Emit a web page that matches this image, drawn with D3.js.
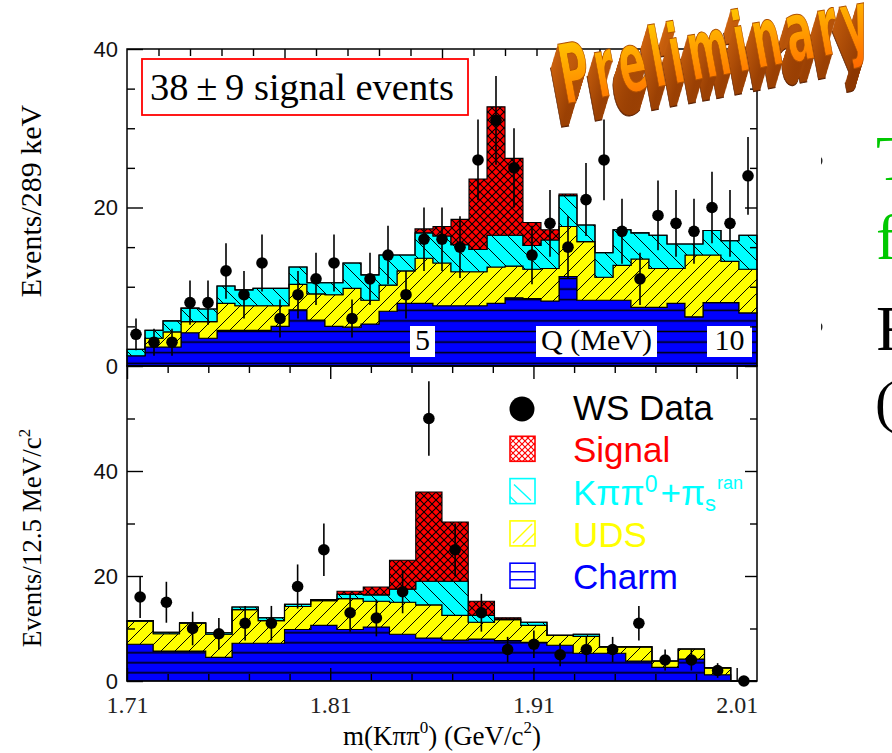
<!DOCTYPE html>
<html>
<head>
<meta charset="utf-8">
<script src="https://cdn.jsdelivr.net/npm/d3@7"></script>
<style>
  html, body { margin: 0; padding: 0; background: #fff; }
  svg { display: block; }
</style>
</head>
<body>
<svg id="chart" width="892" height="753"></svg>
<script>
// ---------- Upper panel: Q distribution, 35 bins of 289 keV ----------
const topCharm  = [1.3,2.4,2.4,4.2,3.5,4.5,4.5,4.5,5.0,7.1,5.8,5.0,4.9,5.3,6.9,7.9,7.9,7.6,7.6,7.6,7.9,8.6,8.5,8.2,11.3,8.3,8.3,8.3,7.4,7.4,7.9,6.2,8.0,8.0,6.7];
const topUDS    = [0,1.1,1.9,1.4,2.1,3.4,3.1,3.1,2.6,3.2,3.3,4.0,4.9,3.0,3.3,4.1,5.7,5.4,4.3,4.3,4.6,4.0,3.7,4.1,6.3,7.4,2.9,4.4,6.1,4.9,4.4,7.8,6.0,5.2,5.5];
const topKpp    = [0.8,1.0,1.4,1.7,1.6,2.2,2.0,2.2,2.2,2.2,1.4,1.5,3.2,3.2,3.8,2.0,3.2,3.4,3.4,2.8,4.0,3.9,3.0,3.6,3.9,2.1,3.1,4.5,3.3,4.2,3.1,1.4,3.1,2.6,4.3];
const topSignal = [0,0,0,0,0,0,0,0,0,0,0,0,0,0,0,0,0.5,1.2,3.2,8.9,16.2,9.7,2.9,1.3,0.2,0,0,0,0,0,0,0,0,0,0];
const topData   = [4,3,3,8,8,12,9,13,6,9,11,13,6,11,14,9,16,16,15,26,31,25,14,18,15,21,26,17,11,19,18,17,20,18,24];
const topErr    = [2.0,1.7,1.7,2.8,2.8,3.5,3.0,3.6,2.4,3.0,3.3,3.6,2.4,3.3,3.7,3.0,4.0,4.0,3.9,5.1,5.6,5.0,3.7,4.2,3.9,4.6,5.1,4.1,3.3,4.4,4.2,4.1,4.5,4.2,4.9];

// ---------- Lower panel: m(K pi pi0), 24 bins of 12.5 MeV ----------
const botCharm  = [7.0,5.7,5.7,4.5,7.2,7.2,9.8,10.6,9.8,10.3,8.9,8.2,7.8,8.0,7.7,7.35,6.8,5.3,5.3,3.8,2.6,4.2,1.2,0];
const botUDS    = [4.4,3.3,5.3,4.4,6.4,4.3,4.4,4.7,5.9,4.9,6.1,6.3,4.7,3.2,4.0,3.25,1.9,3.2,1.2,2.7,1.2,1.9,1.3,0];
const botKpp    = [0.1,0.3,0.1,0.3,0.5,0.55,0.4,0.2,0.8,1.2,2.5,4.5,6.5,1.3,0.1,0.6,0,0.4,0,0,0,0,0,0];
const botSignal = [0,0,0,0,0,0,0,0,0.6,1.5,5.5,17.0,11.3,2.7,0.25,0,0,0,0,0,0,0,0,0];
const botData   = [16,15,10,9,11,11,18,25,13,12,17,50,25,13,6,7,5,6,6,11,4,4,2,0];
const botErr    = [4.0,3.9,3.2,3.0,3.3,3.3,4.2,5.0,3.6,3.5,4.1,7.1,5.0,3.6,2.4,2.6,2.2,2.4,2.4,3.3,2.0,2.0,1.4,0];

// ---------- Axis ticks ----------
const topYMajor  = [0, 20, 40];
const topYMinor  = [5, 10, 15, 25, 30, 35];
const botYMajor  = [0, 20, 40];
const botYMinor  = [10, 30, 50];
const qMajor     = [2.5, 5, 7.5];
const qMinor     = [0.5,1,1.5,2,3,3.5,4,4.5,5.5,6,6.5,7,8,8.5,9,9.5];
const massMajor  = [1.71, 1.81, 1.91, 2.01];
const massMinor  = [1.73,1.75,1.77,1.79,1.83,1.85,1.87,1.89,1.93,1.95,1.97,1.99];

const layerKeys  = ["charm", "uds", "kpp", "signal"];
const legendRows = [
  { key: "data",   label: "WS Data", color: "#000000" },
  { key: "signal", label: "Signal",  color: "#ff0000" },
  { key: "kpp",    label: null,      color: "#00ffff" },
  { key: "uds",    label: "UDS",     color: "#ffff00" },
  { key: "charm",  label: "Charm",   color: "#0000ff" }
];

// ---------- Layout ----------
const plotL = 127, plotR = 757;
const topT = 49, mid = 366, botB = 681;

const svg = d3.select("#chart");
svg.append("rect").attr("width", 892).attr("height", 753).attr("fill", "#fff");

const topY    = d3.scaleLinear().domain([0, 40]).range([mid, topT]);
const botY    = d3.scaleLinear().domain([0, 60]).range([botB, mid]);
const topBin  = d3.scaleLinear().domain([0, topData.length]).range([plotL, plotR]);
const botBin  = d3.scaleLinear().domain([0, botData.length]).range([plotL, plotR]);
const qScale  = d3.scaleLinear().domain([0, 10]).range([plotL, plotR]);
const mScale  = d3.scaleLinear().domain([1.71, 2.02]).range([plotL, plotR]);

const fills = { charm: "#0000ff", uds: "#ffff00", kpp: "#00ffff", signal: "#ff0000" };

// ---------- Fill patterns ----------
const defs = svg.append("defs");
function linePattern(id, w, h, d, sw, y0) {
  const p = defs.append("pattern").attr("id", id)
    .attr("patternUnits", "userSpaceOnUse")
    .attr("width", w).attr("height", h)
    .attr("x", 0).attr("y", y0 || 0);
  p.append("path").attr("d", d).attr("stroke", "#000").attr("stroke-width", sw).attr("fill", "none");
}
linePattern("charmTop", 20, 10.6, "M0,5.3H20", 1.5, mid - 2.7 - 5.3);
linePattern("charmBot", 20, 10, "M0,5H20", 1.5, botB - 8.3 - 5);
linePattern("uds", 14, 14, "M-2,2L2,-2M0,14L14,0M12,16L16,12", 1);
linePattern("kpp", 16, 16, "M-2,14L2,18M0,0L16,16M14,-2L18,2", 1);
linePattern("signal", 8, 8, "M0,0L8,8M0,8L8,0", 1.1);

function colourPattern(id, w, h, d, col) {
  const p = defs.append("pattern").attr("id", id)
    .attr("patternUnits", "userSpaceOnUse").attr("width", w).attr("height", h);
  p.append("path").attr("d", d).attr("stroke", col).attr("stroke-width", 1.2).attr("fill", "none");
}

// ---------- Histogram panels ----------
function drawPanel(series, yScale, xBin, charmPat) {
  const n = series.charm.length;
  const rows = d3.range(n).map(i => ({
    i, charm: series.charm[i], uds: series.uds[i], kpp: series.kpp[i], signal: series.signal[i]
  }));
  const stacked = d3.stack().keys(layerKeys)(rows);
  const g = svg.append("g");
  stacked.forEach(layer => {
    // step shape: the last bin is repeated at the right edge
    const pts = layer.map((s, i) => ({ x: i, y0: s[0], y1: s[1] }));
    pts.push({ x: n, y0: layer[n - 1][0], y1: layer[n - 1][1] });
    const area = d3.area()
      .curve(d3.curveStepAfter)
      .x(d => xBin(d.x))
      .y0(d => yScale(d.y0))
      .y1(d => yScale(d.y1));
    const pat = layer.key === "charm" ? charmPat : layer.key;
    g.append("path").attr("d", area(pts)).attr("fill", fills[layer.key]);
    g.append("path").attr("d", area(pts)).attr("fill", `url(#${pat})`);
    g.append("path").attr("d", area(pts))
      .attr("fill", "none").attr("stroke", "#000").attr("stroke-width", 1.1);
  });
  return g;
}

function drawPoints(data, err, yScale, xBin) {
  const g = svg.append("g");
  data.forEach((v, i) => {
    const cx = xBin(i + 0.5);
    if (err[i] > 0) {
      g.append("line").attr("x1", cx).attr("x2", cx)
        .attr("y1", yScale(v - err[i])).attr("y2", yScale(v + err[i]))
        .attr("stroke", "#000").attr("stroke-width", 1.6);
    }
    g.append("circle").attr("cx", cx).attr("cy", yScale(v)).attr("r", 5.8).attr("fill", "#000");
  });
}

// slide text partly hidden behind the figure
svg.append("circle").attr("cx", 816).attr("cy", 161).attr("r", 6.5).attr("fill", "#222");
svg.append("circle").attr("cx", 816).attr("cy", 327).attr("r", 6.5).attr("fill", "#222");
svg.append("rect").attr("x", 0).attr("y", 0).attr("width", 821).attr("height", 753).attr("fill", "#fff");
const slide = svg.append("g").attr("font-family", "'Liberation Serif', 'Times New Roman', serif").attr("font-size", 64);
slide.append("text").attr("x", 876).attr("y", 180).attr("fill", "#00c800").text("T");
slide.append("text").attr("x", 876).attr("y", 259).attr("fill", "#00c800").text("f");
slide.append("text").attr("x", 876).attr("y", 350).attr("fill", "#000").text("F");
slide.append("text").attr("x", 875).attr("y", 421).attr("fill", "#000").attr("font-size", 58).text("(");

drawPanel({ charm: topCharm, uds: topUDS, kpp: topKpp, signal: topSignal }, topY, topBin, "charmTop");
drawPanel({ charm: botCharm, uds: botUDS, kpp: botKpp, signal: botSignal }, botY, botBin, "charmBot");

// Q scale labels on white patches
const qLab = svg.append("g").attr("font-family", "'Liberation Serif', serif").attr("font-size", 30).attr("text-anchor", "middle");
[[410, 435, "5"], [536, 657, "Q (MeV)"], [707, 752, "10"]].forEach(([a, b, t]) => {
  qLab.append("rect").attr("x", a).attr("y", 326).attr("width", b - a).attr("height", 31).attr("fill", "#fff");
  qLab.append("text").attr("x", (a + b) / 2).attr("y", 350).text(t);
});

drawPoints(topData, topErr, topY, topBin);
drawPoints(botData, botErr, botY, botBin);

// ---------- Frames and axes ----------
const axes = svg.append("g").attr("stroke", "#000");
axes.append("rect").attr("x", plotL).attr("y", topT).attr("width", plotR - plotL).attr("height", mid - topT)
  .attr("fill", "none").attr("stroke-width", 1.5);
axes.append("rect").attr("x", plotL).attr("y", mid).attr("width", plotR - plotL).attr("height", botB - mid)
  .attr("fill", "none").attr("stroke-width", 1.5);

function ticks(axisGen, tr, size, labels, fmt) {
  const a = axisGen.tickSizeInner(-size).tickSizeOuter(0).tickPadding(labels ? 9 : 0);
  if (!labels) a.tickFormat("");
  else if (fmt) a.tickFormat(fmt);
  const g = svg.append("g").attr("transform", tr).call(a);
  g.select(".domain").remove();
  g.selectAll(".tick line").attr("stroke", "#000").attr("stroke-width", 1.4);
  return g;
}
// left axes
const yLabTop = ticks(d3.axisLeft(topY).tickValues(topYMajor), `translate(${plotL},0)`, 16, true);
ticks(d3.axisLeft(topY).tickValues(topYMinor), `translate(${plotL},0)`, 8, false);
const yLabBot = ticks(d3.axisLeft(botY).tickValues(botYMajor), `translate(${plotL},0)`, 16, true);
ticks(d3.axisLeft(botY).tickValues(botYMinor), `translate(${plotL},0)`, 8, false);
[yLabTop, yLabBot].forEach(g => g.selectAll("text")
  .attr("font-family", "'Liberation Sans', Arial, sans-serif").attr("font-size", 22).attr("fill", "#111"));
// right axes
ticks(d3.axisRight(topY).tickValues(topYMajor), `translate(${plotR},0)`, 12, false);
ticks(d3.axisRight(topY).tickValues(topYMinor), `translate(${plotR},0)`, 7, false);
ticks(d3.axisRight(botY).tickValues(botYMajor), `translate(${plotR},0)`, 12, false);
ticks(d3.axisRight(botY).tickValues(botYMinor), `translate(${plotR},0)`, 7, false);
// Q ticks along the top edge
ticks(d3.axisTop(qScale).tickValues(qMajor), `translate(0,${topT})`, 17, false);
ticks(d3.axisTop(qScale).tickValues(qMinor), `translate(0,${topT})`, 7, false);
// mass ticks along the shared edge and the bottom
ticks(d3.axisTop(mScale).tickValues(massMajor), `translate(0,${mid})`, 13, false);
ticks(d3.axisTop(mScale).tickValues(massMinor), `translate(0,${mid})`, 7, false);
const xLab = ticks(d3.axisBottom(mScale).tickValues(massMajor), `translate(0,${botB})`, 13, true, d3.format(".2f"));
ticks(d3.axisBottom(mScale).tickValues(massMinor), `translate(0,${botB})`, 7, false);
xLab.selectAll("text").attr("font-family", "'Liberation Serif', serif").attr("font-size", 24)
  .attr("fill", "#222").attr("dy", "0.95em");

// ---------- Axis titles ----------
const titles = svg.append("g").attr("font-family", "'Liberation Serif', 'Times New Roman', serif").attr("fill", "#000");
titles.append("text").attr("transform", "translate(41,201) rotate(-90)").attr("text-anchor", "middle")
  .attr("font-size", 30).text("Events/289 keV");
const t2 = titles.append("text").attr("transform", "translate(41,538) rotate(-90)").attr("text-anchor", "middle")
  .attr("font-size", 27);
t2.append("tspan").text("Events/12.5 MeV/c");
t2.append("tspan").attr("font-size", 17).attr("dy", -11).text("2");
const xt = titles.append("text").attr("x", 442).attr("y", 745).attr("text-anchor", "middle").attr("font-size", 27);
xt.append("tspan").text("m(K\u03c0\u03c0");
xt.append("tspan").attr("font-size", 17).attr("dy", -12).text("0");
xt.append("tspan").attr("dy", 12).text(") (GeV/c");
xt.append("tspan").attr("font-size", 17).attr("dy", -12).text("2");
xt.append("tspan").attr("dy", 12).text(")");

// ---------- Signal yield box ----------
svg.append("rect").attr("x", 142).attr("y", 59).attr("width", 326).attr("height", 56)
  .attr("fill", "#fff").attr("stroke", "#ff0000").attr("stroke-width", 1.8);
svg.append("text").attr("x", 150).attr("y", 100).attr("font-family", "'Liberation Serif', serif")
  .attr("font-size", 38.5).text("38\u2009\u00b1\u20099 signal events");

// ---------- Legend ----------
colourPattern("legSignal", 6, 6, "M0,0L6,6M0,6L6,0", "#ff0000");
const leg = svg.append("g").attr("font-family", "'Liberation Sans', Arial, sans-serif").attr("font-size", 35);
legendRows.forEach((r, k) => {
  const base = 420 + k * 42.3;
  if (r.key === "data") {
    leg.append("circle").attr("cx", 522).attr("cy", 409).attr("r", 12.5).attr("fill", "#000");
  } else {
    const bx = 510, by = base - 26, s = 25;
    const gi = leg.append("g");
    gi.append("rect").attr("x", bx).attr("y", by).attr("width", s).attr("height", s)
      .attr("fill", r.key === "signal" ? "url(#legSignal)" : "#fff").attr("stroke", r.color).attr("stroke-width", 1.6);
    let d = "";
    if (r.key === "kpp") d = `M${bx + 4},${by + 6}L${bx + s - 4},${by + s - 3}M${bx},${by + 18}L${bx + 7},${by + s}`;
    if (r.key === "uds") d = `M${bx + 3},${by + s - 3}L${bx + s - 3},${by + 3}M${bx + 12},${by + s}L${bx + s},${by + 12}`;
    if (r.key === "charm") d = `M${bx},${by + 8.5}H${bx + s}M${bx},${by + 16.5}H${bx + s}`;
    if (d) gi.append("path").attr("d", d).attr("stroke", r.color).attr("stroke-width", 1.4).attr("fill", "none");
  }
  const t = leg.append("text").attr("x", 573).attr("y", base).attr("fill", r.color);
  if (r.label) t.text(r.label);
  else {
    t.append("tspan").text("K\u03c0\u03c0");
    t.append("tspan").attr("font-size", 23).attr("dy", -13).text("0");
    t.append("tspan").attr("dy", 13).attr("dx", 3).text("+\u03c0");
    t.append("tspan").attr("font-size", 22).attr("dy", 6).text("s");
    t.append("tspan").attr("font-size", 18).attr("dy", -22).attr("dx", 1).text("ran");
  }
});

// ---------- "Preliminary" stamp ----------
const grad = defs.append("linearGradient").attr("id", "prelimFace").attr("x1", 0).attr("y1", 0).attr("x2", 0).attr("y2", 1);
grad.append("stop").attr("offset", "0%").attr("stop-color", "#ffd400");
grad.append("stop").attr("offset", "100%").attr("stop-color", "#ff6600");
const sideGrad = defs.append("linearGradient").attr("id", "prelimSide").attr("x1", 0).attr("y1", 0).attr("x2", 0).attr("y2", 1);
sideGrad.append("stop").attr("offset", "0%").attr("stop-color", "#d86a10");
sideGrad.append("stop").attr("offset", "100%").attr("stop-color", "#8a3500");

const stamp = svg.append("g");
function stampText(g, fill, stroke) {
  return g.append("g").attr("transform", "translate(565,104) rotate(-10.5)")
    .append("text").attr("transform", "scale(0.9,1.65)")
    .attr("font-family", "'DejaVu Sans Condensed', 'DejaVu Sans', sans-serif")
    .attr("font-weight", "bold").attr("font-size", 50).attr("letter-spacing", 5.5)
    .attr("fill", fill).attr("stroke", stroke).attr("stroke-width", 0.6)
    .text("Preliminary");
}
for (let k = 24; k >= 1; k--) {
  const layer = stamp.append("g").attr("transform", `translate(${-0.3 * k},${k})`);
  stampText(layer, k === 24 ? "#7a2e00" : "url(#prelimSide)", k === 24 ? "#5a2000" : "none");
}
stampText(stamp.append("g"), "url(#prelimFace)", "#b05000");
</script>
</body>
</html>
